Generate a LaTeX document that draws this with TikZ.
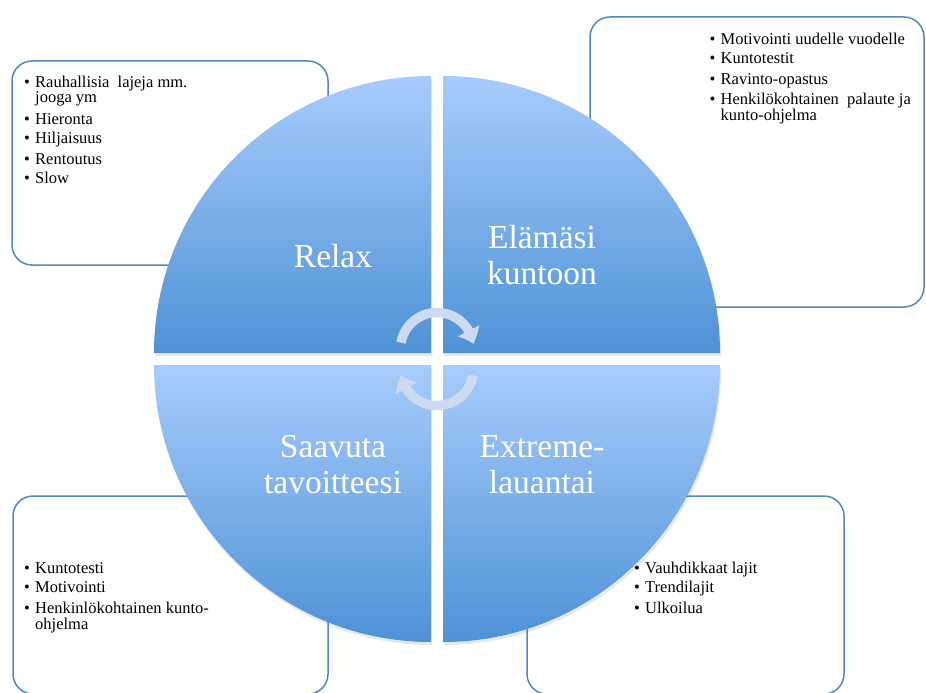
\documentclass[tikz,border=0pt]{standalone}
\usepackage{fontspec}
\setmainfont{Liberation Serif}
\usetikzlibrary{shadows,arrows.meta,bending}
\definecolor{boxblue}{RGB}{84,134,196}
\definecolor{qtop}{RGB}{168,204,252}
\definecolor{qbot}{RGB}{78,146,214}
\definecolor{arrowc}{RGB}{204,219,242}
\newcommand\lstfont{\fontsize{16.5}{16}\selectfont}
\newcommand\lblfont{\fontsize{33.5}{36}\selectfont}
\tikzset{
  infobox/.style={draw=boxblue, line width=1.5pt, rounded corners=20pt, fill=white, inner sep=0pt},
  quarter/.style={top color=qtop, bottom color=qbot,
    drop shadow={shadow xshift=1.2pt, shadow yshift=-3pt, opacity=0.18}},
  qlabel/.style={text=white, font=\lblfont, inner sep=0pt, anchor=base},
  listtext/.style={font=\lstfont, inner sep=0pt, anchor=base west},
  cyc/.style={draw=arrowc, line width=9.5pt, -{Triangle[width=23pt,length=14pt,bend]}}
}
\begin{document}
\begin{tikzpicture}[x=1pt,y=-1pt]
\useasboundingbox[fill=white] (0,0) rectangle (926,693);
% text boxes
\node[infobox, minimum width=316pt, minimum height=204pt] (box1) at (170,163) {};
\node[infobox, minimum width=334pt, minimum height=290pt] (box2) at (757,162) {};
\node[infobox, minimum width=315pt, minimum height=198pt] (box3) at (170.5,595) {};
\node[infobox, minimum width=317pt, minimum height=198pt] (box4) at (685.5,595) {};
% list texts
\node[listtext] (list1) at (24,87) {\begin{tabular}[t]{@{}l@{\hspace{5.2pt}}l@{}}
\textbullet & Rauhallisia\ \ lajeja mm.\\
 & jooga ym\\[5pt]
\textbullet & Hieronta\\[3pt]
\textbullet & Hiljaisuus\\[5pt]
\textbullet & Rentoutus\\[3pt]
\textbullet & Slow
\end{tabular}};
\node[listtext] (list2) at (709.5,45) {\begin{tabular}[t]{@{}l@{\hspace{5.2pt}}l@{}}
\textbullet & Motivointi uudelle vuodelle\\[3pt]
\textbullet & Kuntotestit\\[5pt]
\textbullet & Ravinto-opastus\\[3pt]
\textbullet & Henkilökohtainen\ \ palaute ja\\
 & kunto-ohjelma
\end{tabular}};
\node[listtext] (list3) at (24,573) {\begin{tabular}[t]{@{}l@{\hspace{5.2pt}}l@{}}
\textbullet & Kuntotesti\\[3pt]
\textbullet & Motivointi\\[5pt]
\textbullet & Henkinlökohtainen kunto-\\
 & ohjelma
\end{tabular}};
\node[listtext] (list4) at (634,573) {\begin{tabular}[t]{@{}l@{\hspace{5.2pt}}l@{}}
\textbullet & Vauhdikkaat lajit\\[3pt]
\textbullet & Trendilajit\\[5pt]
\textbullet & Ulkoilua
\end{tabular}};
% quarters
\path[quarter] (431,353) -- (154,353) arc[start angle=180, end angle=270, radius=277] -- cycle;
\path[quarter] (443,353) -- (443,76) arc[start angle=270, end angle=360, radius=277] -- cycle;
\path[quarter] (443,365) -- (720,365) arc[start angle=0, end angle=90, radius=277] -- cycle;
\path[quarter] (431,365) -- (431,642) arc[start angle=90, end angle=180, radius=277] -- cycle;
% labels
\node[qlabel] (relax) at (333,267) {Relax};
\node[qlabel] (elamasi) at (542,248) {\begin{tabular}[t]{@{}c@{}}Elämäsi\\kuntoon\end{tabular}};
\node[qlabel] (saavuta) at (333,457) {\begin{tabular}[t]{@{}c@{}}Saavuta\\tavoitteesi\end{tabular}};
\node[qlabel] (extreme) at (542,457) {\begin{tabular}[t]{@{}c@{}}Extreme-\\lauantai\end{tabular}};
% cycle arrows
\coordinate (ctop) at (437,349);
\coordinate (cbot) at (437,369);
\draw[cyc] (ctop) ++(190:36.5) arc[start angle=190, end angle=352, radius=36.5];
\draw[cyc] (cbot) ++(10:36.5) arc[start angle=10, end angle=170, radius=36.5];
\end{tikzpicture}
\end{document}
